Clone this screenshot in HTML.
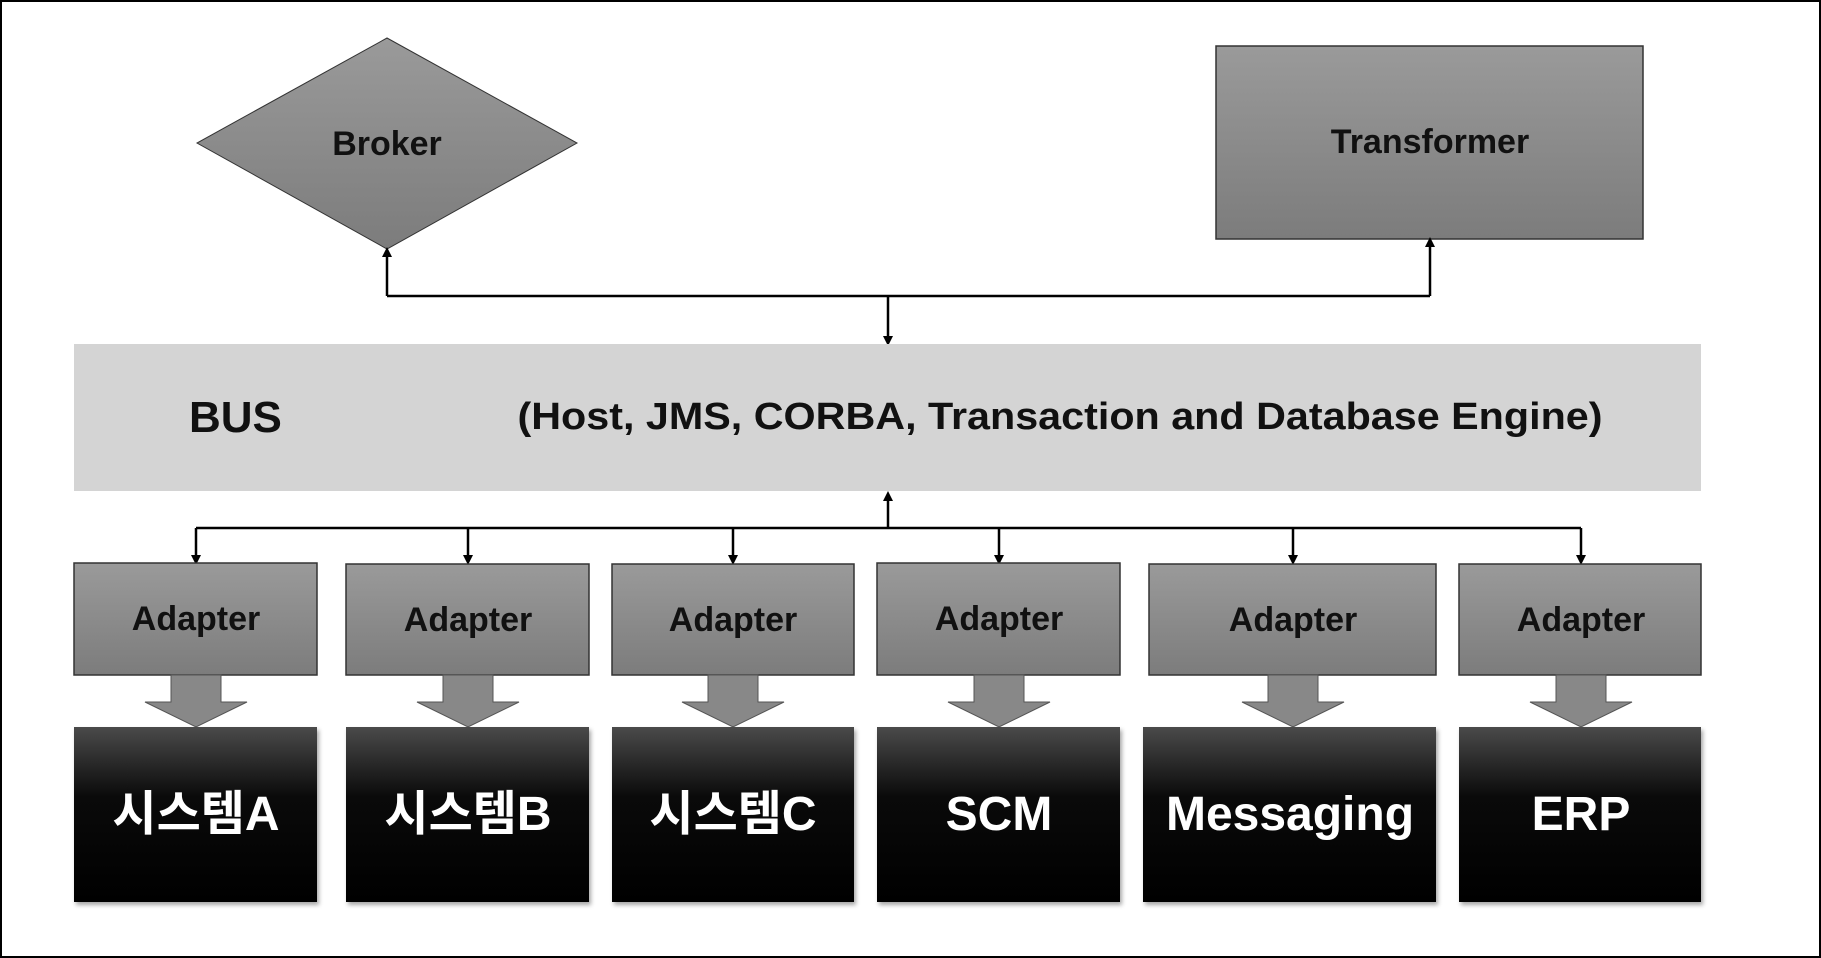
<!DOCTYPE html>
<html><head><meta charset="utf-8"><style>
html,body{margin:0;padding:0;background:#fff;}
svg{display:block;}
text{font-family:"Liberation Sans","Noto Sans CJK KR",sans-serif;}
</style></head><body>
<svg width="1821" height="958" viewBox="0 0 1821 958" xmlns="http://www.w3.org/2000/svg">
<defs>
<linearGradient id="g1" x1="0" y1="0" x2="0" y2="1"><stop offset="0" stop-color="#9a9a9a"/><stop offset="1" stop-color="#7c7c7c"/></linearGradient>
<linearGradient id="g2" x1="0" y1="0" x2="0" y2="1"><stop offset="0" stop-color="#4a4a4a"/><stop offset="0.4" stop-color="#0a0a0a"/><stop offset="1" stop-color="#000"/></linearGradient>
<marker id="ah" markerWidth="10" markerHeight="10" refX="5" refY="5" orient="auto" markerUnits="userSpaceOnUse"><path d="M0,0 L10,5 L0,10 z" fill="#000"/></marker>
</defs>
<rect x="1" y="1" width="1819" height="956" fill="#fff" stroke="#000" stroke-width="2"/>
<!-- Broker -->
<polygon points="387,38 577,143 387,249 197,143" fill="url(#g1)" stroke="#333" stroke-width="1"/>
<text x="387" y="155" font-size="34" font-weight="bold" text-anchor="middle" fill="#111">Broker</text>
<!-- Transformer -->
<rect x="1216" y="46" width="427" height="193" fill="url(#g1)" stroke="#333" stroke-width="1.5"/>
<text x="1430" y="153" font-size="34" font-weight="bold" text-anchor="middle" fill="#111">Transformer</text>
<!-- top connectors -->
<g stroke="#000" stroke-width="2.5" fill="none">
<polyline points="387,296 1430,296"/>
<line x1="387" y1="296" x2="387" y2="252" marker-end="url(#ah)"/>
<line x1="1430" y1="296" x2="1430" y2="242" marker-end="url(#ah)"/>
<line x1="888" y1="296" x2="888" y2="341" marker-end="url(#ah)"/>
</g>
<!-- BUS -->
<rect x="74" y="344" width="1627" height="147" fill="#d4d4d4"/>
<text x="189" y="432" font-size="44" font-weight="bold" fill="#111">BUS</text>
<text x="1060" y="429" font-size="38" font-weight="bold" text-anchor="middle" fill="#111" textLength="1085" lengthAdjust="spacingAndGlyphs">(Host, JMS, CORBA, Transaction and Database Engine)</text>
<!-- bottom connectors -->
<g stroke="#000" stroke-width="2.5" fill="none">
<line x1="888" y1="528" x2="888" y2="496" marker-end="url(#ah)"/>
<line x1="196" y1="528" x2="1581" y2="528"/>
<line x1="196" y1="528" x2="196" y2="560" marker-end="url(#ah)"/>
<line x1="468" y1="528" x2="468" y2="560" marker-end="url(#ah)"/>
<line x1="733" y1="528" x2="733" y2="560" marker-end="url(#ah)"/>
<line x1="999" y1="528" x2="999" y2="560" marker-end="url(#ah)"/>
<line x1="1293" y1="528" x2="1293" y2="560" marker-end="url(#ah)"/>
<line x1="1581" y1="528" x2="1581" y2="560" marker-end="url(#ah)"/>
</g>
<!-- adapters + systems -->
<g font-size="34" font-weight="bold" text-anchor="middle">
<rect x="74" y="563" width="243" height="112" fill="url(#g1)" stroke="#333" stroke-width="1.5"/>
<text x="196" y="630" fill="#111">Adapter</text>
<rect x="346" y="564" width="243" height="111" fill="url(#g1)" stroke="#333" stroke-width="1.5"/>
<text x="468" y="631" fill="#111">Adapter</text>
<rect x="612" y="564" width="242" height="111" fill="url(#g1)" stroke="#333" stroke-width="1.5"/>
<text x="733" y="631" fill="#111">Adapter</text>
<rect x="877" y="563" width="243" height="112" fill="url(#g1)" stroke="#333" stroke-width="1.5"/>
<text x="999" y="630" fill="#111">Adapter</text>
<rect x="1149" y="564" width="287" height="111" fill="url(#g1)" stroke="#333" stroke-width="1.5"/>
<text x="1293" y="631" fill="#111">Adapter</text>
<rect x="1459" y="564" width="242" height="111" fill="url(#g1)" stroke="#333" stroke-width="1.5"/>
<text x="1581" y="631" fill="#111">Adapter</text>
</g>
<g fill="#888" stroke="#555" stroke-width="1">
<polygon points="171,675 221,675 221,702 247,702 196,727 145,702 171,702"/>
<polygon points="443,675 493,675 493,702 519,702 468,727 417,702 443,702"/>
<polygon points="708,675 758,675 758,702 784,702 733,727 682,702 708,702"/>
<polygon points="974,675 1024,675 1024,702 1050,702 999,727 948,702 974,702"/>
<polygon points="1268,675 1318,675 1318,702 1344,702 1293,727 1242,702 1268,702"/>
<polygon points="1556,675 1606,675 1606,702 1632,702 1581,727 1530,702 1556,702"/>
</g>
<g fill="url(#g2)" style="filter:drop-shadow(2px 3px 2px rgba(0,0,0,0.35))">
<rect x="74" y="727" width="243" height="175"/>
<rect x="346" y="727" width="243" height="175"/>
<rect x="612" y="727" width="242" height="175"/>
<rect x="877" y="727" width="243" height="175"/>
<rect x="1143" y="727" width="293" height="175"/>
<rect x="1459" y="727" width="242" height="175"/>
</g>
<g font-size="48" font-weight="bold" text-anchor="middle" fill="#fff">
<text x="196" y="830">시스템A</text>
<text x="468" y="830">시스템B</text>
<text x="733" y="830">시스템C</text>
<text x="999" y="830">SCM</text>
<text x="1290" y="830">Messaging</text>
<text x="1581" y="830">ERP</text>
</g>
</svg>
</body></html>
